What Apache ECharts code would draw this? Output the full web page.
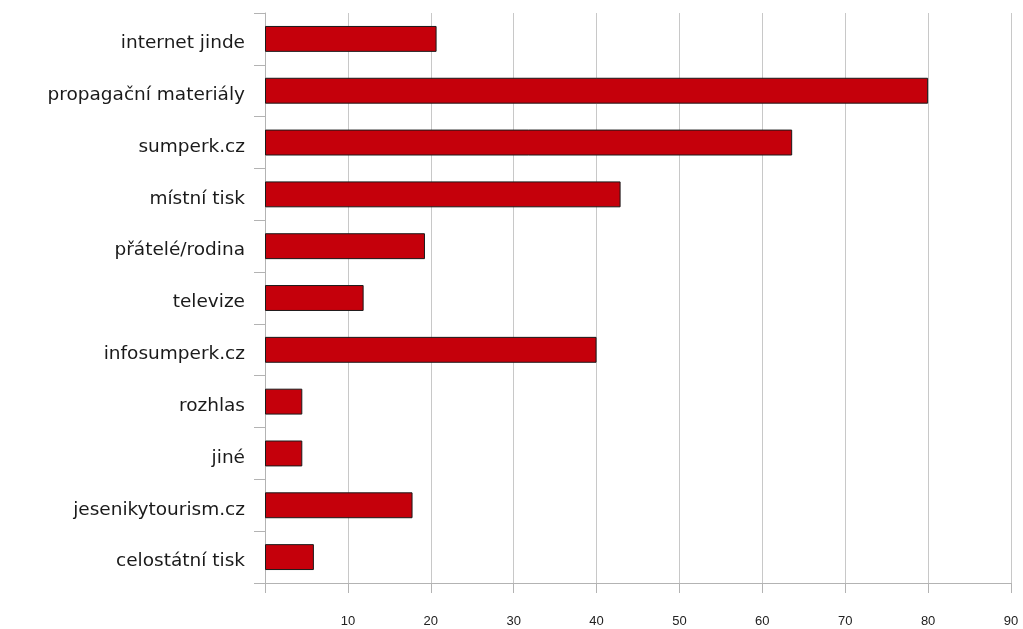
<!DOCTYPE html>
<html>
<head>
<meta charset="utf-8">
<script src="https://cdn.jsdelivr.net/npm/echarts@6/dist/echarts.min.js"></script>
<style>
  html, body { margin: 0; padding: 0; background: #fff; }
  #chart { width: 1023px; height: 629px; }
</style>
</head>
<body>
<div id="chart"></div>
<script>
// Sources of information, top to bottom
const categories = [
  'internet jinde',
  'propagační materiály',
  'sumperk.cz',
  'místní tisk',
  'přátelé/rodina',
  'televize',
  'infosumperk.cz',
  'rozhlas',
  'jiné',
  'jesenikytourism.cz',
  'celostátní tisk'
];
const values = [20.7, 80, 63.6, 42.9, 19.3, 11.9, 40, 4.5, 4.5, 17.8, 5.9];
const xTicks = { min: 0, max: 90, step: 10 };

const chart = echarts.init(document.getElementById('chart'), null, { renderer: 'canvas' });
chart.setOption({
  animation: false,
  backgroundColor: '#ffffff',
  grid: { left: 265, right: 12, top: 13, bottom: 46, containLabel: false },
  xAxis: {
    type: 'value',
    min: xTicks.min,
    max: xTicks.max,
    interval: xTicks.step,
    axisLine: { show: true, lineStyle: { color: '#b3b3b3', width: 1 } },
    axisTick: { show: true, length: 10, lineStyle: { color: '#b3b3b3' } },
    splitLine: { show: true, lineStyle: { color: '#c8c8c8', width: 1 } },
    axisLabel: {
      margin: 32,
      fontFamily: 'Liberation Sans, Arial, sans-serif',
      fontSize: 13,
      color: '#222',
      formatter: v => (v === 0 ? '' : String(v))
    }
  },
  yAxis: {
    type: 'category',
    data: categories,
    inverse: true,
    axisLine: { show: true, lineStyle: { color: '#b3b3b3', width: 1 } },
    axisTick: { show: true, length: 11, lineStyle: { color: '#b3b3b3' } },
    splitLine: { show: false },
    axisLabel: {
      margin: 20,
      formatter: v => '{c|' + v + '}',
      rich: {
        c: {
          padding: [9, 0, 0, 0],
          fontFamily: 'DejaVu Sans, sans-serif',
          fontSize: 18.5,
          color: '#1a1a1a'
        }
      }
    }
  },
  series: [{
    type: 'bar',
    data: values,
    barCategoryGap: '50%',
    itemStyle: { color: '#c5000b', borderColor: '#1a1a1a', borderWidth: 1 }
  }]
});
</script>
</body>
</html>
